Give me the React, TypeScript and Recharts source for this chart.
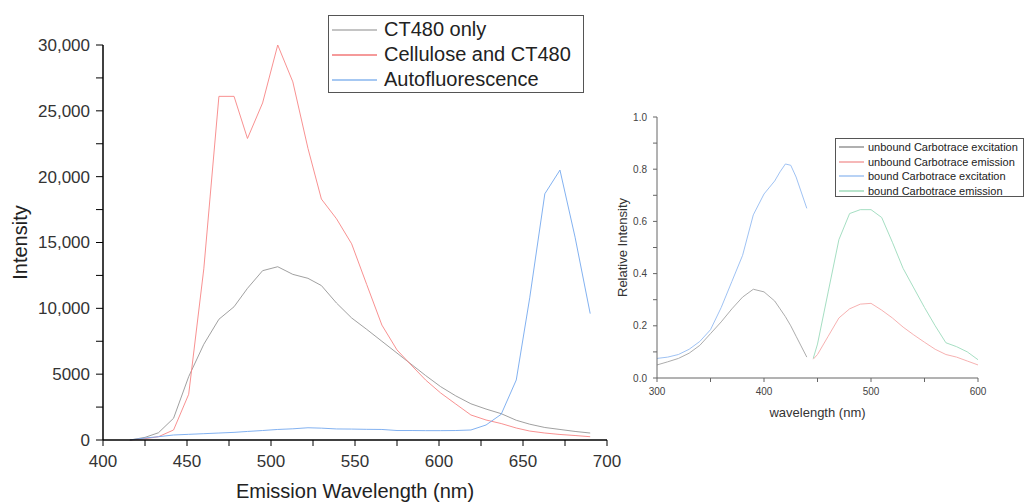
import { LineChart, Line, XAxis, YAxis, Legend, Label } from "recharts"

// left panel: emission spectra
const wavelengths = [416, 425, 433, 442, 451, 460, 469, 478, 486, 495, 504, 513, 522, 530, 539, 548, 557, 566, 575, 584, 592, 601, 610, 619, 628, 637, 646, 654, 663, 672, 681, 690]
const ct480Only = [0, 200, 550, 1650, 4810, 7270, 9170, 10120, 11520, 12860, 13160, 12580, 12280, 11730, 10400, 9270, 8400, 7500, 6600, 5700, 4900, 4050, 3350, 2750, 2350, 2000, 1500, 1200, 950, 800, 650, 530]
const celluloseCt480 = [0, 100, 250, 760, 3470, 13000, 26100, 26100, 22900, 25600, 30000, 27200, 22150, 18300, 16800, 14900, 11800, 8730, 6840, 5620, 4560, 3570, 2730, 1900, 1520, 1250, 910, 680, 530, 420, 340, 250]
const autofluorescence = [0, 150, 250, 380, 430, 480, 530, 580, 650, 720, 800, 850, 930, 900, 840, 830, 810, 800, 720, 720, 710, 710, 720, 760, 1140, 1950, 4560, 10800, 18700, 20500, 15400, 9600]

const emissionTicks = [400, 425, 450, 475, 500, 525, 550, 575, 600, 625, 650, 675, 700]
const intensityTicks = [0, 2500, 5000, 7500, 10000, 12500, 15000, 17500, 20000, 22500, 25000, 27500, 30000]

// right panel: carbotrace excitation / emission
const excitationNm = [300, 310, 320, 330, 340, 350, 360, 370, 380, 390, 400, 410, 415, 420, 425, 430, 440]
const unboundExcitation = [0.05, 0.062, 0.075, 0.095, 0.125, 0.17, 0.215, 0.265, 0.31, 0.34, 0.33, 0.295, 0.265, 0.235, 0.2, 0.16, 0.08]
const boundExcitation = [0.075, 0.08, 0.09, 0.11, 0.14, 0.185, 0.27, 0.37, 0.47, 0.625, 0.705, 0.755, 0.79, 0.82, 0.815, 0.77, 0.65]
const emissionNm = [446, 450, 460, 470, 480, 490, 500, 510, 520, 530, 540, 550, 560, 570, 580, 590, 600]
const unboundEmission = [0.072, 0.09, 0.16, 0.23, 0.265, 0.283, 0.286, 0.26, 0.23, 0.195, 0.165, 0.137, 0.11, 0.09, 0.08, 0.065, 0.05]
const boundEmission = [0.075, 0.13, 0.33, 0.53, 0.63, 0.645, 0.645, 0.615, 0.52, 0.42, 0.345, 0.27, 0.2, 0.135, 0.12, 0.1, 0.07]

const relXTicks = [300, 350, 400, 450, 500, 550, 600]
const relYTicks = [0, 0.1, 0.2, 0.3, 0.4, 0.5, 0.6, 0.7, 0.8, 0.9, 1.0]

const leftData = wavelengths.map((nm, i) => ({
  nm,
  ct: ct480Only[i],
  cel: celluloseCt480[i],
  auto: autofluorescence[i],
}))
const excitationData = excitationNm.map((nm, i) => ({ nm, unbound: unboundExcitation[i], bound: boundExcitation[i] }))
const emissionData = emissionNm.map((nm, i) => ({ nm, unbound: unboundEmission[i], bound: boundEmission[i] }))

const FONT = "Arial, 'Liberation Sans', sans-serif"

// ticks with minor marks: every other tick gets a label
function yTick(size: number, margin: number, len: number, color: string, fontSize: number, fmt: (v: number) => string) {
  return (props: any) => {
    const { x, y, payload, index } = props
    const ax = x + size + margin
    const major = index % 2 === 0
    return (
      <g>
        <line x1={ax} x2={ax - len} y1={y} y2={y} stroke={color} strokeWidth={1} />
        {major && (
          <text x={x} y={y} dy="0.35em" textAnchor="end" fill={color === "#000" ? "#333" : "#444"} fontSize={fontSize} fontFamily={FONT}>
            {fmt(payload.value)}
          </text>
        )}
      </g>
    )
  }
}

function xTick(size: number, margin: number, len: number, color: string, fontSize: number) {
  return (props: any) => {
    const { x, y, payload, index } = props
    const ay = y - size - margin
    const major = index % 2 === 0
    return (
      <g>
        <line x1={x} x2={x} y1={ay} y2={ay + len} stroke={color} strokeWidth={1} />
        {major && (
          <text x={x} y={y} dy="0.71em" textAnchor="middle" fill={color === "#000" ? "#333" : "#444"} fontSize={fontSize} fontFamily={FONT}>
            {payload.value}
          </text>
        )}
      </g>
    )
  }
}

function LegendBox({ items, style, lineW, fontSize, rowH, gap }: any) {
  return (
    <div style={{ border: "1px solid #555", background: "#fff", boxSizing: "border-box", fontFamily: FONT, ...style }}>
      {items.map((it: any) => (
        <div key={it.label} style={{ display: "flex", alignItems: "center", height: rowH, whiteSpace: "nowrap" }}>
          <span style={{ display: "inline-block", width: lineW, height: 2, background: it.color, marginLeft: 3, marginRight: gap }} />
          <span style={{ fontSize, color: "#222" }}>{it.label}</span>
        </div>
      ))}
    </div>
  )
}

const leftLegend = [
  { label: "CT480 only", color: "#c4c4c4" },
  { label: "Cellulose and CT480", color: "#f59a9a" },
  { label: "Autofluorescence", color: "#a6c8f2" },
]
const rightLegend = [
  { label: "unbound Carbotrace excitation", color: "#b0b0b0" },
  { label: "unbound Carbotrace emission", color: "#f6b8b8" },
  { label: "bound Carbotrace excitation", color: "#b8d2f5" },
  { label: "bound Carbotrace emission", color: "#b8e4cc" },
]

export default function App() {
  return (
    <div style={{ position: "absolute", left: 0, top: 0, width: 1025, height: 502, overflow: "hidden", background: "#fff", fontFamily: FONT }}>
      <div style={{ position: "absolute", left: 0, top: 0 }}>
        <LineChart width={640} height={502} data={leftData} margin={{ top: 45, right: 33, bottom: 0, left: 0 }}>
          <XAxis
            dataKey="nm"
            type="number"
            domain={[400, 700]}
            ticks={emissionTicks}
            interval={0}
            height={62}
            axisLine={{ stroke: "#000", strokeWidth: 1.5 }}
            tickLine={false}
            tickSize={6}
            tickMargin={9}
            tick={xTick(6, 9, 6, "#000", 17)}
          >
            <Label value="Emission Wavelength (nm)" position="insideBottom" offset={4} fontSize={20} fill="#222" />
          </XAxis>
          <YAxis
            type="number"
            domain={[0, 30000]}
            ticks={intensityTicks}
            interval={0}
            width={103}
            axisLine={{ stroke: "#000", strokeWidth: 1.5 }}
            tickLine={false}
            tickSize={7}
            tickMargin={6}
            tick={yTick(7, 6, 7, "#000", 17, (v) => (v >= 10000 ? v.toLocaleString("en-US") : String(v)))}
          >
            <Label
              content={({ viewBox }: any) => {
                const cy = viewBox.y + viewBox.height / 2
                return (
                  <text x={27} y={cy} transform={`rotate(-90 27 ${cy})`} textAnchor="middle" fontSize={20} fill="#222" fontFamily={FONT}>
                    Intensity
                  </text>
                )
              }}
            />
          </YAxis>
          <Line dataKey="ct" stroke="#959595" strokeWidth={0.9} dot={false} isAnimationActive={false} />
          <Line dataKey="cel" stroke="#f78585" strokeWidth={0.9} dot={false} isAnimationActive={false} />
          <Line dataKey="auto" stroke="#74a8ee" strokeWidth={0.9} dot={false} isAnimationActive={false} />
          <Legend
            layout="vertical"
            align="center"
            verticalAlign="middle"
            wrapperStyle={{ top: 15, left: 328, width: 256 }}
            content={() => <LegendBox items={leftLegend} style={{ width: 256, height: 78, paddingTop: 1 }} lineW={45} fontSize={20} rowH={25} gap={7} />}
          />
        </LineChart>
      </div>

      <div style={{ position: "absolute", left: 590, top: 90 }}>
        <LineChart width={435} height={350} margin={{ top: 27, right: 47, bottom: 0, left: 0 }}>
          <XAxis
            dataKey="nm"
            type="number"
            domain={[300, 600]}
            ticks={relXTicks}
            interval={0}
            height={62}
            axisLine={{ stroke: "#666", strokeWidth: 1 }}
            tickLine={false}
            tickSize={4}
            tickMargin={6}
            tick={xTick(4, 6, 4, "#666", 10)}
          >
            <Label value="wavelength (nm)" position="insideBottom" offset={23} fontSize={13} fill="#333" />
          </XAxis>
          <YAxis
            type="number"
            domain={[0, 1]}
            ticks={relYTicks}
            interval={0}
            width={67}
            axisLine={{ stroke: "#666", strokeWidth: 1 }}
            tickLine={false}
            tickSize={4}
            tickMargin={6}
            tick={yTick(4, 6, 4, "#666", 10, (v) => v.toFixed(1))}
          >
            <Label
              content={({ viewBox }: any) => {
                const cy = viewBox.y + viewBox.height / 2
                return (
                  <text x={37} y={cy} transform={`rotate(-90 37 ${cy})`} textAnchor="middle" fontSize={13} fill="#333" fontFamily={FONT}>
                    Relative Intensity
                  </text>
                )
              }}
            />
          </YAxis>
          <Line data={excitationData} dataKey="unbound" stroke="#a3a3a3" strokeWidth={0.9} dot={false} isAnimationActive={false} />
          <Line data={emissionData} dataKey="unbound" stroke="#f5a8a8" strokeWidth={0.9} dot={false} isAnimationActive={false} />
          <Line data={excitationData} dataKey="bound" stroke="#94bbf2" strokeWidth={0.9} dot={false} isAnimationActive={false} />
          <Line data={emissionData} dataKey="bound" stroke="#9bdabb" strokeWidth={0.9} dot={false} isAnimationActive={false} />
          <Legend
            layout="vertical"
            align="center"
            verticalAlign="middle"
            wrapperStyle={{ top: 48, left: 245, width: 189 }}
            content={() => <LegendBox items={rightLegend} style={{ width: 189, height: 59, paddingTop: 1 }} lineW={25} fontSize={11} rowH={14.5} gap={4} />}
          />
        </LineChart>
      </div>
    </div>
  )
}
